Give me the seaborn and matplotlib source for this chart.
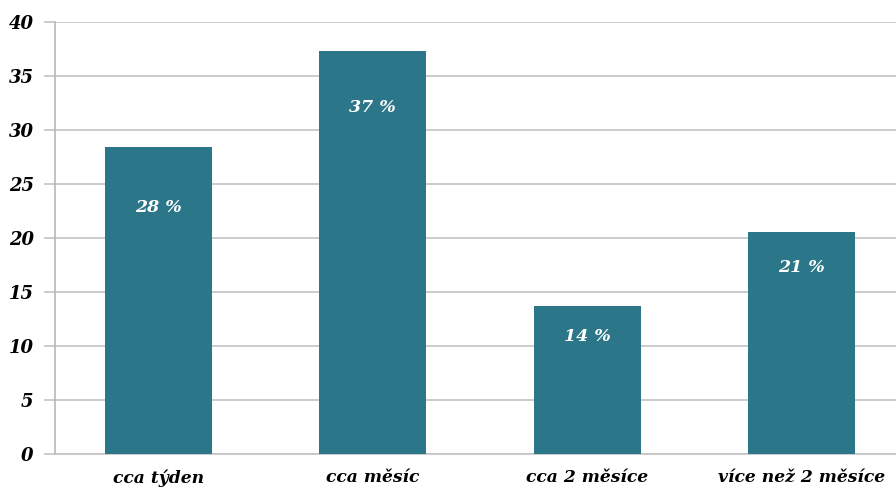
import matplotlib
matplotlib.use("Agg")
import matplotlib.pyplot as plt
import seaborn as sns
import pandas as pd

categories = ["cca týden", "cca měsíc", "cca 2 měsíce", "více než 2 měsíce"]
values = [28.4, 37.3, 13.7, 20.6]
labels = ["28 %", "37 %", "14 %", "21 %"]
yticks = [0, 5, 10, 15, 20, 25, 30, 35, 40]

# styling: how far below the bar top each label sits (data units)
label_drop = [5.6, 5.2, 2.8, 3.3]

sns.set_theme(style="white")
plt.rcParams["font.family"] = ["DejaVu Serif"]

fig = plt.figure(figsize=(8.96, 4.88), dpi=100)
ax = fig.add_axes([54.5 / 896, 1 - 454 / 488, (896 - 54.5) / 896, 432 / 488])

df = pd.DataFrame({"cat": categories, "val": values})
sns.barplot(data=df, x="cat", y="val", color="#2C7689", saturation=1,
            width=0.5, ax=ax, zorder=3, linewidth=0, edgecolor="none")

ax.set_xlim(-0.485, 3.441)
ax.set_ylim(0, 40)
ax.set_yticks(yticks)
ax.set_yticklabels([str(t) for t in yticks], fontsize=13,
                   fontweight="bold", fontstyle="italic", color="black")
ax.set_xticks(range(len(categories)))
ax.set_xticklabels(categories, fontsize=12.3, fontweight="bold",
                   fontstyle="italic", color="black")
ax.yaxis.grid(True, color="#C4C4C4", linewidth=1.2, zorder=0)
ax.set_axisbelow(True)
for s in ["top", "right"]:
    ax.spines[s].set_visible(False)
ax.spines["left"].set_color("#B8B8B8")
ax.spines["bottom"].set_color("#C4C4C4")
ax.spines["left"].set_linewidth(1.2)
ax.spines["bottom"].set_linewidth(1.2)
ax.tick_params(axis="y", length=8, width=1.2, color="#C4C4C4", pad=7, left=True)
ax.tick_params(axis="x", length=0, pad=11)
ax.set_xlabel("")
ax.set_ylabel("")

for i, (v, lab, d) in enumerate(zip(values, labels, label_drop)):
    ax.text(i, v - d, lab, ha="center", va="center", color="white",
            fontsize=12.5, fontweight="bold", fontstyle="italic", zorder=4)

fig.savefig("out.png", dpi=100)
